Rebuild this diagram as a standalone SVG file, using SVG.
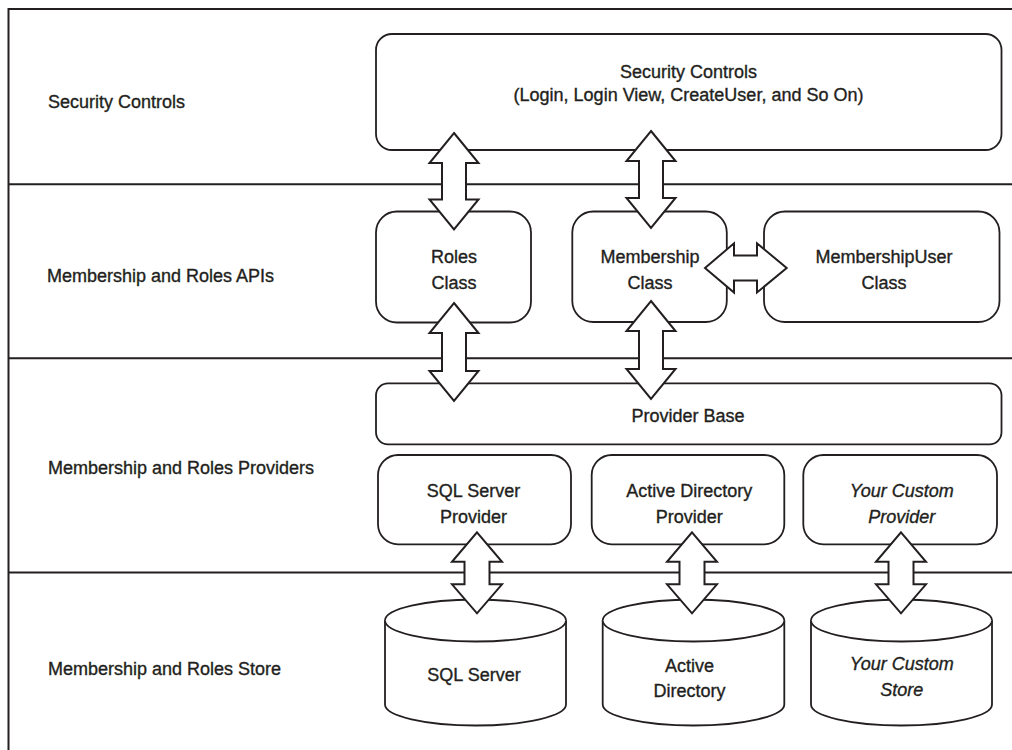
<svg xmlns="http://www.w3.org/2000/svg" width="1012" height="750" viewBox="0 0 1012 750">
<style>
.bg{fill:#ffffff}
.frame{fill:none;stroke:#231f20;stroke-width:2}
.box{fill:#ffffff;stroke:#231f20;stroke-width:1.8}
.arrow{fill:#ffffff;stroke:#231f20;stroke-width:2;stroke-linejoin:miter}
text{font-family:"Liberation Sans",Arial,sans-serif;font-size:18px;fill:#231f20;stroke:#231f20;stroke-width:0.35}
.c{text-anchor:middle}
.i{font-style:italic}
</style>
<rect class="bg" x="0" y="0" width="1012" height="750"/>
<g id="frame">
<path class="frame" d="M1012,9 L8.5,9 L8.5,750"/>
<line class="frame" x1="8.5" y1="184.3" x2="1012" y2="184.3"/>
<line class="frame" x1="8.5" y1="358.3" x2="1012" y2="358.3"/>
<line class="frame" x1="8.5" y1="572.5" x2="1012" y2="572.5"/>
</g>
<g id="row-labels">
<text x="48" y="108.3">Security Controls</text>
<text x="47" y="281.7">Membership and Roles APIs</text>
<text x="48" y="474.3">Membership and Roles Providers</text>
<text x="48" y="675">Membership and Roles Store</text>
</g>
<g id="security-controls">
<rect class="box" x="376" y="34" width="625.5" height="116" rx="16"/>
<text class="c" x="688.5" y="77.7">Security Controls</text>
<text class="c" x="688.5" y="100.5">(Login, Login View, CreateUser, and So On)</text>
</g>
<g id="roles-class">
<rect class="box" x="376" y="211.5" width="155" height="111" rx="21"/>
<text class="c" x="454" y="263.3">Roles</text>
<text class="c" x="454" y="289.3">Class</text>
</g>
<g id="membership-class">
<rect class="box" x="572.3" y="211.5" width="154.5" height="110.5" rx="21"/>
<text class="c" x="650" y="263.3">Membership</text>
<text class="c" x="650" y="289.3">Class</text>
</g>
<g id="membershipuser-class">
<rect class="box" x="764" y="211.5" width="235.5" height="110.5" rx="21"/>
<text class="c" x="884" y="263.3">MembershipUser</text>
<text class="c" x="884" y="289.3">Class</text>
</g>
<g id="provider-base">
<rect class="box" x="376" y="383.3" width="625.5" height="61" rx="12"/>
<text class="c" x="688" y="422.3">Provider Base</text>
</g>
<g id="sql-server-provider">
<rect class="box" x="378" y="455" width="193" height="89.3" rx="20"/>
<text class="c" x="473.5" y="496.7">SQL Server</text>
<text class="c" x="473.5" y="523.3">Provider</text>
</g>
<g id="ad-provider">
<rect class="box" x="591.7" y="455" width="192.6" height="89.3" rx="20"/>
<text class="c" x="689.3" y="496.7">Active Directory</text>
<text class="c" x="689.3" y="523.3">Provider</text>
</g>
<g id="custom-provider">
<rect class="box" x="803.3" y="455" width="193.7" height="89.3" rx="20"/>
<text class="c i" x="901.7" y="496.7">Your Custom</text>
<text class="c i" x="901.7" y="523.3">Provider</text>
</g>
<g id="sql-server-store">
<path class="box" d="M385,620.5 A90.5,21 0 0 1 566,620.5 L566,704.5 A90.5,21 0 0 1 385,704.5 Z"/>
<path class="box" d="M385,620.5 A90.5,21 0 0 0 566,620.5" fill="none"/>
<text class="c" x="474" y="680.7">SQL Server</text>
</g>
<g id="ad-store">
<path class="box" d="M602.7,620.5 A90.8,21 0 0 1 784.3,620.5 L784.3,704.5 A90.8,21 0 0 1 602.7,704.5 Z"/>
<path class="box" d="M602.7,620.5 A90.8,21 0 0 0 784.3,620.5" fill="none"/>
<text class="c" x="689.5" y="671.7">Active</text>
<text class="c" x="689.5" y="697.3">Directory</text>
</g>
<g id="custom-store">
<path class="box" d="M811,620.5 A90.5,21 0 0 1 992,620.5 L992,704.5 A90.5,21 0 0 1 811,704.5 Z"/>
<path class="box" d="M811,620.5 A90.5,21 0 0 0 992,620.5" fill="none"/>
<text class="c i" x="901.7" y="670">Your Custom</text>
<text class="c i" x="901.7" y="696">Store</text>
</g>
<g id="connectors">
<path class="arrow" d="M454,133 L478.5,163 L466,163 L466,199.5 L478.5,199.5 L454,229.5 L429.5,199.5 L442,199.5 L442,163 L429.5,163 Z"/>
<path class="arrow" d="M651,131 L675.5,161 L663,161 L663,198 L675.5,198 L651,228 L626.5,198 L639,198 L639,161 L626.5,161 Z"/>
<path class="arrow" d="M454,303 L478.5,333 L466,333 L466,371 L478.5,371 L454,401 L429.5,371 L442,371 L442,333 L429.5,333 Z"/>
<path class="arrow" d="M651,301 L675.5,331 L663,331 L663,369 L675.5,369 L651,399 L626.5,369 L639,369 L639,331 L626.5,331 Z"/>
<path class="arrow" d="M705,268 L734,243.3 L734,255.5 L757,255.5 L757,243.3 L786.7,268 L757,292.5 L757,280.5 L734,280.5 L734,292.5 Z"/>
<path class="arrow" d="M477,532.3 L502,561.8 L489.5,561.8 L489.5,584.3 L502,584.3 L477,613.3 L452,584.3 L464.5,584.3 L464.5,561.8 L452,561.8 Z"/>
<path class="arrow" d="M692,532.3 L717,561.8 L704.5,561.8 L704.5,584.3 L717,584.3 L692,613.3 L667,584.3 L679.5,584.3 L679.5,561.8 L667,561.8 Z"/>
<path class="arrow" d="M901,532.3 L926,561.8 L913.5,561.8 L913.5,584.3 L926,584.3 L901,613.3 L876,584.3 L888.5,584.3 L888.5,561.8 L876,561.8 Z"/>
</g>
</svg>
